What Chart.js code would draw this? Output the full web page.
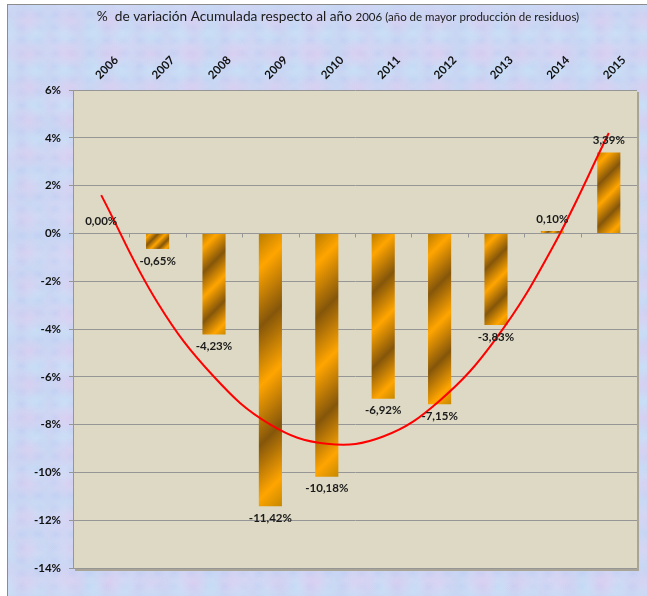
<!DOCTYPE html>
<html>
<head>
<meta charset="utf-8">
<script src="https://cdn.jsdelivr.net/npm/chart.js@4.4.1/dist/chart.umd.min.js"></script>
<style>
  html, body { margin: 0; padding: 0; width: 647px; height: 596px; overflow: hidden; background: #fff; }
  #frame {
    position: absolute; left: 7px; top: 4px; width: 660px; height: 610px;
    border-left: 1px solid #8c8c8c; border-top: 1px solid #8c8c8c;
    background-color: #c9d6f3;
    background-image:
      radial-gradient(ellipse, rgba(230, 200, 238, 0.45) 0%, transparent 65%),
      radial-gradient(ellipse, rgba(200, 234, 250, 0.45) 0%, transparent 65%),
      radial-gradient(ellipse, rgba(182, 198, 240, 0.35) 0%, transparent 60%),
      radial-gradient(ellipse, rgba(228, 212, 245, 0.35) 0%, transparent 65%);
    background-size: 41px 33px, 29px 37px, 17px 13px, 61px 53px;
    background-position: 0 0, 13px 9px, 5px 3px, 23px 17px;
  }
  #c { position: absolute; left: 0; top: 0; }
</style>
</head>
<body>
<div id="frame"></div>
<canvas id="c" width="647" height="596"></canvas>
<script>
// % variation vs 2006 (bars) + red 2nd-order trend line
const YEARS = ['2006', '2007', '2008', '2009', '2010', '2011', '2012', '2013', '2014', '2015'];
const VARIATION = [0.00, -0.65, -4.23, -11.42, -10.18, -6.92, -7.15, -3.83, 0.10, 3.39];
const TREND = [1.6, -2.9, -6.0, -8.0, -8.8, -8.5, -7.0, -4.4, -0.6, 4.2];
const Y_MIN = -14, Y_MAX = 6, Y_STEP = 2;

const TITLE_MAIN = '%  de variación Acumulada respecto al año ';
const TITLE_SMALL = '2006 (año de mayor producción de residuos)';

const FONT = 'Lato, "Open Sans", sans-serif';
const BAR_PCT = 0.41;

// diagonal striped gold fill, scaled to each bar like the spreadsheet gradient
function stripeFill(context) {
  const chart = context.chart;
  const xs = chart.scales.x, ys = chart.scales.y;
  if (!xs || !ys || xs.width === undefined) return '#e69a00';
  const i = context.dataIndex;
  const v = VARIATION[i];
  const w = xs.width / YEARS.length * BAR_PCT;
  const x0 = xs.getPixelForValue(i) - w / 2;
  const top = Math.min(ys.getPixelForValue(v), ys.getPixelForValue(0));
  const h = Math.max(1, Math.abs(ys.getPixelForValue(v) - ys.getPixelForValue(0)));
  const L = (w + h) / 2;
  const g = chart.ctx.createLinearGradient(x0, top, x0 + L, top + L);
  g.addColorStop(0.00, '#b97b00');
  g.addColorStop(0.12, '#ffa500');
  g.addColorStop(0.32, '#85560a');
  g.addColorStop(0.52, '#ffa500');
  g.addColorStop(0.72, '#85560a');
  g.addColorStop(0.90, '#ffa500');
  g.addColorStop(1.00, '#c58800');
  return g;
}

const plotBackground = {
  id: 'plotBackground',
  beforeDraw(chart) {
    const { ctx, chartArea: a } = chart;
    ctx.save();
    ctx.fillStyle = '#a8a496';
    ctx.fillRect(a.left + 2, a.top + 2, a.right - a.left, a.bottom - a.top + 1);
    ctx.fillStyle = '#ddd9c4';
    ctx.fillRect(a.left, a.top, a.right - a.left, a.bottom - a.top);
    ctx.restore();
  },
};

const titleText = {
  id: 'titleText',
  afterDraw(chart) {
    const ctx = chart.ctx;
    ctx.save();
    ctx.fillStyle = '#1a1a1a';
    ctx.textBaseline = 'alphabetic';
    ctx.font = '13.7px ' + FONT;
    const w1 = ctx.measureText(TITLE_MAIN).width;
    ctx.font = '11.5px ' + FONT;
    const w2 = ctx.measureText(TITLE_SMALL).width;
    const x = 338 - (w1 + w2) / 2;
    ctx.textAlign = 'left';
    ctx.font = '13.7px ' + FONT;
    ctx.fillText(TITLE_MAIN, x, 21);
    ctx.font = '11.5px ' + FONT;
    ctx.fillText(TITLE_SMALL, x + w1, 21);
    ctx.restore();
  },
};

const zeroTicks = {
  id: 'zeroTicks',
  afterDatasetsDraw(chart) {
    const { ctx, scales: { x, y } } = chart;
    const y0 = Math.round(y.getPixelForValue(0)) + 0.5;
    const step = x.width / YEARS.length;
    ctx.save();
    ctx.strokeStyle = '#969696';
    ctx.lineWidth = 1;
    ctx.beginPath();
    for (let i = 1; i < YEARS.length; i++) {
      const px = Math.round(x.left + i * step) + 0.5;
      ctx.moveTo(px, y0);
      ctx.lineTo(px, y0 + 4);
    }
    ctx.stroke();
    ctx.restore();
  },
};

const valueLabels = {
  id: 'valueLabels',
  afterDatasetsDraw(chart) {
    const ctx = chart.ctx;
    const meta = chart.getDatasetMeta(1);
    ctx.save();
    ctx.font = 'bold 11.5px ' + FONT;
    ctx.fillStyle = '#1a1a1a';
    ctx.textAlign = 'center';
    ctx.textBaseline = 'middle';
    meta.data.forEach((bar, i) => {
      const v = VARIATION[i];
      const txt = v.toFixed(2).replace('.', ',') + '%';
      const py = v < 0 ? bar.y + 12 : bar.y - 12;
      ctx.fillText(txt, bar.x, py);
    });
    ctx.restore();
  },
};

new Chart(document.getElementById('c'), {
  type: 'bar',
  data: {
    labels: YEARS,
    datasets: [
      {
        type: 'line',
        label: 'Tendencia',
        data: TREND,
        borderColor: '#ff0000',
        borderWidth: 2,
        pointRadius: 0,
        tension: 0.4,
        fill: false,
        order: 0,
      },
      {
        label: '% variación',
        data: VARIATION,
        backgroundColor: stripeFill,
        borderWidth: 0,
        categoryPercentage: 1,
        barPercentage: BAR_PCT,
        order: 1,
      },
    ],
  },
  options: {
    responsive: false,
    animation: false,
    devicePixelRatio: 1,
    layout: { padding: { left: 0, right: 10, top: 0, bottom: 28 } },
    plugins: {
      legend: { display: false },
      tooltip: { enabled: false },
      title: { display: false },
    },
    scales: {
      x: {
        position: 'top',
        offset: true,
        grid: { display: false },
        border: { display: false },
        ticks: {
          autoSkip: false,
          maxRotation: 45,
          minRotation: 45,
          padding: 0,
          labelOffset: 6,
          color: '#111',
          font: { family: FONT, size: 11.5, weight: 'bold' },
        },
        afterFit(scale) { scale.height = 90; },
      },
      y: {
        min: Y_MIN,
        max: Y_MAX,
        grid: { color: '#969696', lineWidth: 1, tickLength: 4 },
        border: { display: true, color: '#969696', width: 1 },
        ticks: {
          stepSize: Y_STEP,
          padding: 8,
          color: '#111',
          font: { family: FONT, size: 11.5, weight: 'bold' },
          callback: (v) => v + '%',
        },
        afterFit(scale) { scale.width = 73; },
      },
    },
  },
  plugins: [plotBackground, zeroTicks, valueLabels, titleText],
});
</script>
</body>
</html>
